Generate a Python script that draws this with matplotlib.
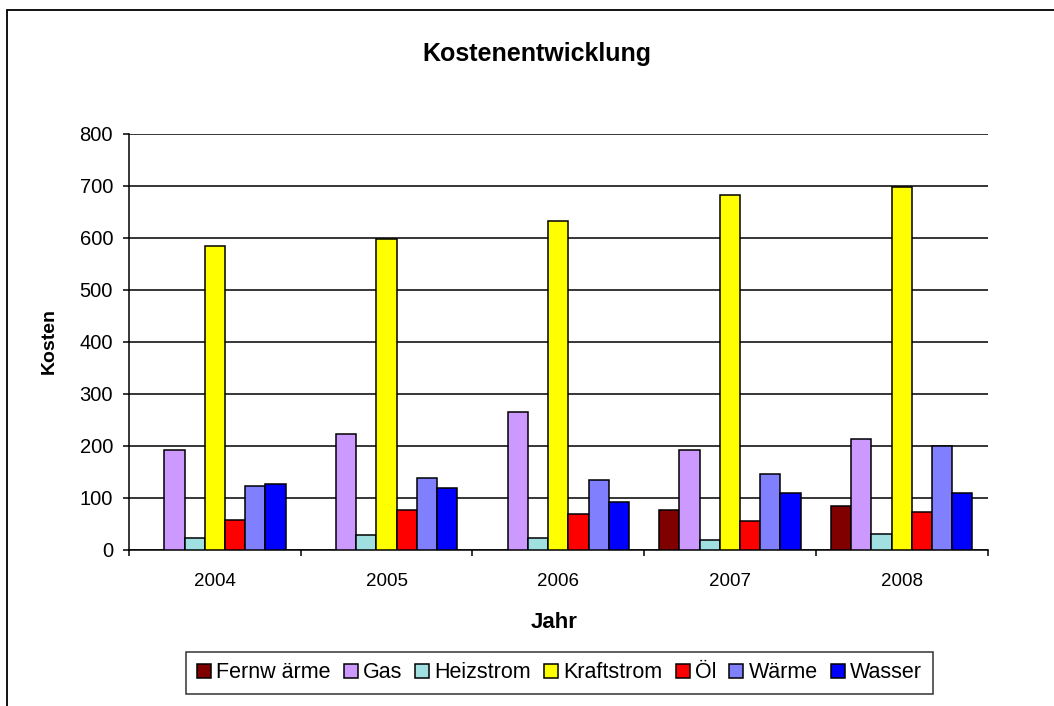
import matplotlib
matplotlib.use('Agg')
import matplotlib.pyplot as plt
import numpy as np
from matplotlib.patches import Rectangle, Patch

plt.rcParams['font.family'] = ['Liberation Sans', 'DejaVu Sans']

jahre = ['2004', '2005', '2006', '2007', '2008']
serien = ['Fernw ärme', 'Gas', 'Heizstrom', 'Kraftstrom', 'Öl', 'Wärme', 'Wasser']
farben = ['#800000', '#CC99FF', '#A0E0E0', '#FFFF00', '#FF0000', '#8080FF', '#0000FF']

fernwaerme = [np.nan, np.nan, np.nan, 76, 84]
gas = [192, 222, 265, 192, 212]
heizstrom = [22, 27, 22, 19, 30]
kraftstrom = [584, 598, 631, 681, 697]
oel = [57, 76, 69, 54, 73]
waerme = [122, 138, 134, 146, 199]
wasser = [126, 119, 92, 108, 108]

werte = [fernwaerme, gas, heizstrom, kraftstrom, oel, waerme, wasser]

W, H = 1054, 706
fig = plt.figure(figsize=(W / 100, H / 100), dpi=100)
ax = fig.add_axes([129 / W, 1 - 549.5 / H, 858.5 / W, 416 / H])

x = np.arange(len(jahre))
w = 1 / 8.5   # Excel gap width 150%
for k, (name, vals) in enumerate(zip(serien, werte)):
    ax.bar(x + (k - 3) * w, vals, width=w, color=farben[k], edgecolor='black',
           linewidth=1.1, label=name, zorder=3)

ax.set_xlim(-0.5, len(jahre) - 0.5)
ax.set_ylim(0, 800)
ax.set_yticks(np.arange(0, 801, 100))
ax.yaxis.grid(True, color='black', linewidth=1.1)
ax.set_axisbelow(True)

# Kategorie-Trennstriche unten, Beschriftung in der Mitte
ax.set_xticks(np.arange(-0.5, len(jahre)), labels=[''] * (len(jahre) + 1))
ax.set_xticks(x, labels=jahre, minor=True)
ax.tick_params(axis='x', which='major', length=4.5, width=1.1, direction='out')
ax.tick_params(axis='x', which='minor', length=0, pad=17, labelsize=13.5)
ax.tick_params(axis='y', length=4.5, width=1.1, direction='out', labelsize=14.5, pad=7)

for s in ['top', 'right']:
    ax.spines[s].set_visible(False)
for s in ['left', 'bottom']:
    ax.spines[s].set_linewidth(1.1)

fig.text(537 / W, 1 - 54 / H, 'Kostenentwicklung', ha='center', va='center',
         fontsize=18, fontweight='bold')
fig.text(49 / W, 1 - 341 / H, 'Kosten', ha='center', va='center', rotation=90,
         fontsize=14, fontweight='bold')
fig.text(554 / W, 1 - 622 / H, 'Jahr', ha='center', va='center',
         fontsize=16, fontweight='bold')

handles = [Patch(facecolor=c, edgecolor='black', linewidth=1.1) for c in farben]
leg = fig.legend(handles, serien, loc='center', bbox_to_anchor=(559.5 / W, 1 - 673 / H),
                 ncol=7, fontsize=15.5, frameon=True, fancybox=False, edgecolor='black',
                 handlelength=0.65, handleheight=0.65, handletextpad=0.25,
                 columnspacing=0.6, borderpad=0.5, borderaxespad=0)
leg.get_frame().set_linewidth(1.1)

fig.patches.append(Rectangle((7 / W, -0.1), 1.2, 0.1 + 1 - 10 / H, transform=fig.transFigure,
                             fill=False, edgecolor='black', linewidth=1.3))

fig.savefig('out.png', dpi=100)
